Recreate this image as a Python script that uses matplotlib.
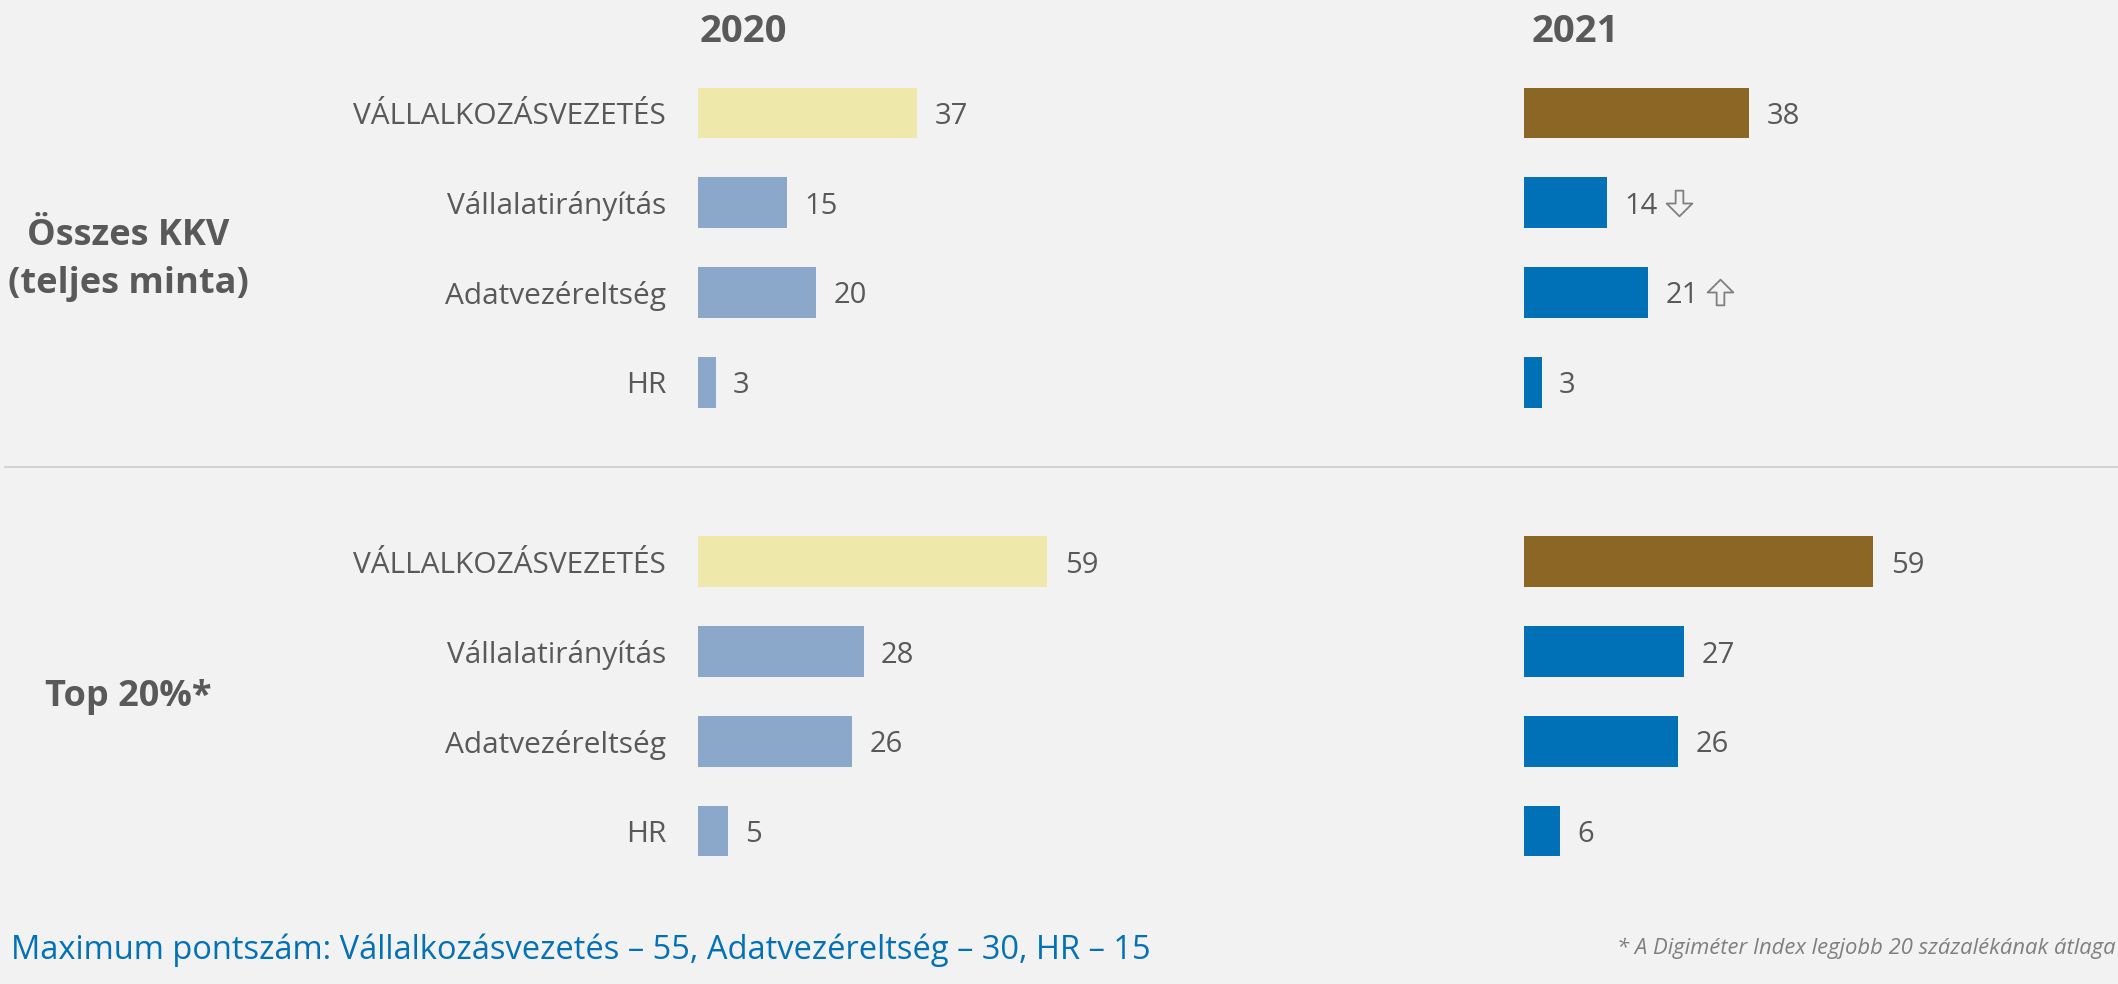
import matplotlib
matplotlib.use("Agg")
import matplotlib.pyplot as plt
from matplotlib.lines import Line2D
from matplotlib.path import Path

# data
categories = ["VÁLLALKOZÁSVEZETÉS", "Vállalatirányítás", "Adatvezéreltség", "HR"]
groups = ["Összes KKV\n(teljes minta)", "Top 20%*"]
years = ["2020", "2021"]
all_2020 = [37, 15, 20, 3]
all_2021 = [38, 14, 21, 3]
top_2020 = [59, 28, 26, 5]
top_2021 = [59, 27, 26, 6]
trend_2021 = [None, "down", "up", None]  # change vs 2020, whole sample only

BG = "#F2F2F2"
TXT = "#595959"
COL_2020 = ("#EEE8AA", "#8BA7CA")
COL_2021 = ("#8C6624", "#0071B6")

W, H = 2118, 984
plt.rcParams["font.family"] = ["Open Sans", "DejaVu Sans"]

fig = plt.figure(figsize=(W / 100, H / 100), dpi=100, facecolor=BG)

# rows: 0..3 top block, 5..8 bottom block
rows_top = [0, 1, 2, 3]
rows_bot = [5, 6, 7, 8]
px_per_unit = 5.92
ax_w = 420
ax_bottom = 108 / H
ax_height = 808 / H

# hollow block arrow markers
_down = [(-0.15, 0.5), (0.15, 0.5), (0.15, 0.0), (0.5, 0.0), (0.0, -0.5),
         (-0.5, 0.0), (-0.15, 0.0), (-0.15, 0.5)]
ARROW = {
    "down": Path(_down, closed=True),
    "up": Path([(x, -y) for x, y in _down], closed=True),
}


def panel(left_px, vals_all, vals_top, colors, trend=None):
    ax = fig.add_axes([left_px / W, ax_bottom, ax_w / W, ax_height])
    ax.set_facecolor("none")
    ax.set_xlim(0, ax_w / px_per_unit)
    ax.set_ylim(8.5, -0.5)
    for rows, vals in ((rows_top, vals_all), (rows_bot, vals_top)):
        cols = [colors[0]] + [colors[1]] * (len(vals) - 1)
        ax.barh(rows, vals, height=0.565, color=cols, edgecolor="none")
        for r, v in zip(rows, vals):
            ax.annotate(str(v), (v, r), xytext=(12.5, 0), textcoords="offset points",
                        ha="left", va="center_baseline", fontsize=21, color=TXT)
    if trend:
        for r, v, t in zip(rows_top, vals_all, trend):
            if t is None:
                continue
            ax.plot(v + 72 / px_per_unit, r, marker=ARROW[t], markersize=18.5,
                    markerfacecolor="none", markeredgecolor="#7F7F7F",
                    markeredgewidth=1.3, linestyle="none")
    for s in ax.spines.values():
        s.set_visible(False)
    ax.set_xticks([])
    ax.set_yticks([])
    return ax


ax20 = panel(698, all_2020, top_2020, COL_2020)
ax21 = panel(1524, all_2021, top_2021, COL_2021, trend_2021)

# category labels on the left of the 2020 panel
ax20.set_yticks(rows_top + rows_bot)
ax20.set_yticklabels(categories + categories, fontsize=21.5, color=TXT,
                     va="center_baseline")
ax20.tick_params(axis="y", length=0, pad=23)

# year titles
fig.text(743 / W, 1 - 32 / H, years[0], ha="center", va="center",
         fontsize=27.5, fontweight="bold", color=TXT)
fig.text(1575 / W, 1 - 32 / H, years[1], ha="center", va="center",
         fontsize=27.5, fontweight="bold", color=TXT)

# group labels
fig.text(128 / W, 1 - 260 / H, groups[0], ha="center", va="center",
         fontsize=26, fontweight="bold", color=TXT, linespacing=1.45)
fig.text(128 / W, 1 - 697 / H, groups[1], ha="center", va="center",
         fontsize=26, fontweight="bold", color=TXT)

# separator between the blocks
fig.add_artist(Line2D([5 / W, 1], [1 - 467 / H] * 2, color="#D4D4D4", linewidth=1.5))

# footnotes
fig.text(11 / W, 1 - 950 / H,
         "Maximum pontszám: Vállalkozásvezetés – 55, Adatvezéreltség – 30, HR – 15",
         ha="left", va="center", fontsize=23.5, color="#0071B6")
fig.text(2116 / W, 1 - 948 / H,
         "* A Digiméter Index legjobb 20 százalékának átlaga",
         ha="right", va="center", fontsize=15.8, style="italic", color="#7F7F7F")

fig.savefig("out.png", dpi=100, facecolor=BG)
